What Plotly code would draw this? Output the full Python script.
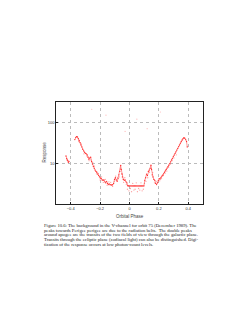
import plotly.graph_objects as go

# Main response band (orbital phase, response)
seg1_phase = [-0.432, -0.428, -0.424, -0.420, -0.416, -0.412]
seg1_resp = [15, 13, 12, 11.5, 10.5, 11]

phase = [-0.372, -0.366, -0.360, -0.354, -0.348, -0.342, -0.336, -0.330, -0.324, -0.318,
         -0.312, -0.306, -0.300, -0.294, -0.288, -0.282, -0.276, -0.270, -0.264, -0.258,
         -0.252, -0.246, -0.240, -0.234, -0.228, -0.222, -0.216, -0.210, -0.204, -0.198,
         -0.192, -0.186, -0.180, -0.174, -0.168, -0.162, -0.156, -0.150, -0.144, -0.138,
         -0.132, -0.126, -0.120, -0.114, -0.108, -0.102, -0.096, -0.090, -0.084, -0.078,
         -0.072, -0.066, -0.060, -0.056, -0.052, -0.048, -0.042, -0.036, -0.030, -0.024,
         -0.018, -0.012, -0.006, 0.002, 0.010, 0.018, 0.026, 0.034, 0.042, 0.050,
         0.058, 0.066, 0.074, 0.082, 0.090, 0.098, 0.104, 0.110, 0.116, 0.122,
         0.128, 0.134, 0.140, 0.146, 0.150, 0.154, 0.160, 0.166, 0.172, 0.178,
         0.184, 0.190, 0.196, 0.202, 0.208, 0.214, 0.220, 0.226, 0.232, 0.238,
         0.244, 0.250, 0.256, 0.262, 0.268, 0.274, 0.280, 0.286, 0.292, 0.298,
         0.304, 0.310, 0.316, 0.322, 0.328, 0.334, 0.340, 0.346, 0.352, 0.358,
         0.364, 0.370, 0.376, 0.382, 0.388, 0.393]
response = [38, 43, 45, 44, 40, 36, 32, 28, 25, 22,
            20, 18.5, 17.5, 17, 16, 14, 12.5, 13.5, 14, 11,
            9.5, 8.3, 7.5, 6.8, 6.3, 6.0, 5.4, 5.0, 4.6, 4.3,
            4.2, 3.9, 3.8, 3.9, 3.5, 3.3, 3.6, 3.2, 3.0, 3.1,
            2.95, 3.0, 2.9, 3.0, 3.2, 4.0, 4.4, 3.9, 3.6, 4.2,
            5.2, 6.3, 8.8, 7.0, 5.5, 4.6, 4.0, 3.8, 3.9, 3.5,
            3.3, 2.8, 2.77, 2.77, 2.77, 2.77, 2.77, 2.77, 2.77, 2.77,
            2.77, 2.77, 2.77, 2.77, 2.77, 2.77, 3.8, 4.4, 5.4, 5.0,
            6.3, 6.8, 7.5, 8.9, 7.0, 5.2, 4.6, 4.0, 3.8, 3.2,
            3.0, 3.3, 3.8, 4.2, 4.1, 4.5, 4.8, 5.1, 5.5, 6.0,
            6.5, 7.0, 7.6, 8.2, 8.9, 9.8, 10.8, 12, 13, 14.5,
            15.8, 17.5, 19, 21, 23, 25.5, 28, 31, 34, 37,
            40, 42, 41, 38, 34, 25]

# Scattered individual samples around the band
noise_phase = [-0.345, -0.33, -0.31, -0.29, -0.275, -0.262, -0.25, -0.238, -0.225, -0.212,
               -0.2, -0.19, -0.178, -0.165, -0.152, -0.14, -0.128, -0.115, -0.104, -0.094,
               -0.082, -0.07, -0.062, -0.05, -0.04, -0.032, -0.022, -0.014, -0.004, 0.006,
               0.014, 0.022, 0.03, 0.038, 0.046, 0.054, 0.062, 0.07, 0.078, 0.086,
               0.094, 0.102, 0.112, 0.124, 0.136, 0.148, 0.158, 0.17, 0.182, 0.194,
               0.206, 0.218, 0.23, 0.242, 0.254, 0.266, 0.278, 0.29, 0.302, 0.318]
noise_resp = [34, 30, 17, 15, 11.5, 12, 10.5, 8.5, 5.5, 5.6,
              3.9, 4.6, 3.4, 4.0, 2.9, 3.5, 3.4, 2.7, 3.6, 4.8,
              4.5, 4.6, 7.2, 5.3, 3.4, 4.4, 3.0, 2.3, 2.1, 2.4,
              2.0, 3.2, 2.2, 2.3, 3.3, 2.0, 2.4, 2.2, 3.3, 2.1,
              2.3, 3.2, 3.6, 4.4, 6.0, 7.5, 5.9, 3.3, 3.6, 3.4,
              3.7, 4.2, 5.0, 5.7, 6.4, 8.0, 9.5, 11.5, 13.5, 16]

# Faint sparse outliers high above the band
out_phase = [-0.257, -0.16, -0.03, 0.05, 0.12, 0.21]
out_resp = [210, 150, 60, 120, 70, 180]

x_ticks = [-0.4, -0.2, 0, 0.2, 0.4]
x_tick_labels = ["\u22120.4", "\u22120.2", "0", "0.2", "0.4"]
y_ticks = [10, 100]
y_tick_labels = ["10", "100"]

caption_lines = [
    "Figure 10.6: The background in the V-channel for orbit 75 (December 1989). The",
    "peaks towards Perigee perigee are due to the radiation belts.  The double peaks",
    "around apogee are the transits of the two fields of view through the galactic plane.",
    "Transits through the ecliptic plane (zodiacal light) can also be distinguished. Digi-",
    "tization of the response occurs at low photon-count levels.",
]

RED = "#ff3030"
fig = go.Figure()
fig.add_trace(go.Scatter(x=out_phase, y=out_resp, mode="markers",
                         marker=dict(size=1.2, color="rgba(255,120,120,0.5)"),
                         showlegend=False, hoverinfo="skip"))
fig.add_trace(go.Scatter(x=noise_phase, y=noise_resp, mode="markers",
                         marker=dict(size=1.3, color="rgba(255,80,80,0.55)"),
                         showlegend=False))
fig.add_trace(go.Scatter(x=seg1_phase, y=seg1_resp, mode="lines+markers",
                         line=dict(color=RED, width=0.5),
                         marker=dict(size=1.3, color=RED), showlegend=False))
fig.add_trace(go.Scatter(x=phase, y=response, mode="lines+markers",
                         line=dict(color=RED, width=0.5),
                         marker=dict(size=1.3, color=RED), showlegend=False))

L, R, T, B = 56, 47, 102, 119
pw, ph = 250 - L - R, 323 - T - B

def px(xp):
    return (xp - L) / pw

def py(yp):
    return (323 - B - yp) / ph

ann = [
    dict(text="Orbital Phase", x=px(130), y=py(216), xref="paper", yref="paper",
         showarrow=False, font=dict(size=4.5, family="Liberation Sans", color="#444"),
         xanchor="center", yanchor="middle"),
    dict(text="Response", x=px(43.5), y=py(152), xref="paper", yref="paper",
         showarrow=False, textangle=-90,
         font=dict(size=4.5, family="Liberation Sans", color="#444"),
         xanchor="center", yanchor="middle"),
]
line_y = [225, 230, 234.7, 239.4, 244.1]
for t, yy in zip(caption_lines, line_y):
    ann.append(dict(text=t, x=px(42), y=py(yy), xref="paper", yref="paper",
                    showarrow=False, xanchor="left", yanchor="middle",
                    font=dict(size=4.7, family="Liberation Serif", color="#222")))

axis_common = dict(showline=True, linecolor="#222", linewidth=0.6, mirror=True,
                   showgrid=True, gridcolor="#bbbbbb", griddash="dot", gridwidth=0.6,
                   zeroline=False, ticks="inside", ticklen=2, tickcolor="#222",
                   tickfont=dict(size=4, family="Liberation Sans", color="#333"))

fig.update_layout(
    width=250, height=323,
    margin=dict(l=L, r=R, t=T, b=B),
    paper_bgcolor="white", plot_bgcolor="white",
    xaxis=dict(range=[-0.5, 0.5], tickvals=x_ticks, ticktext=x_tick_labels, **axis_common),
    yaxis=dict(type="log", range=[0, 2.5], tickvals=y_ticks, ticktext=y_tick_labels,
               **axis_common),
    annotations=ann,
)
fig.write_html("out.html")
